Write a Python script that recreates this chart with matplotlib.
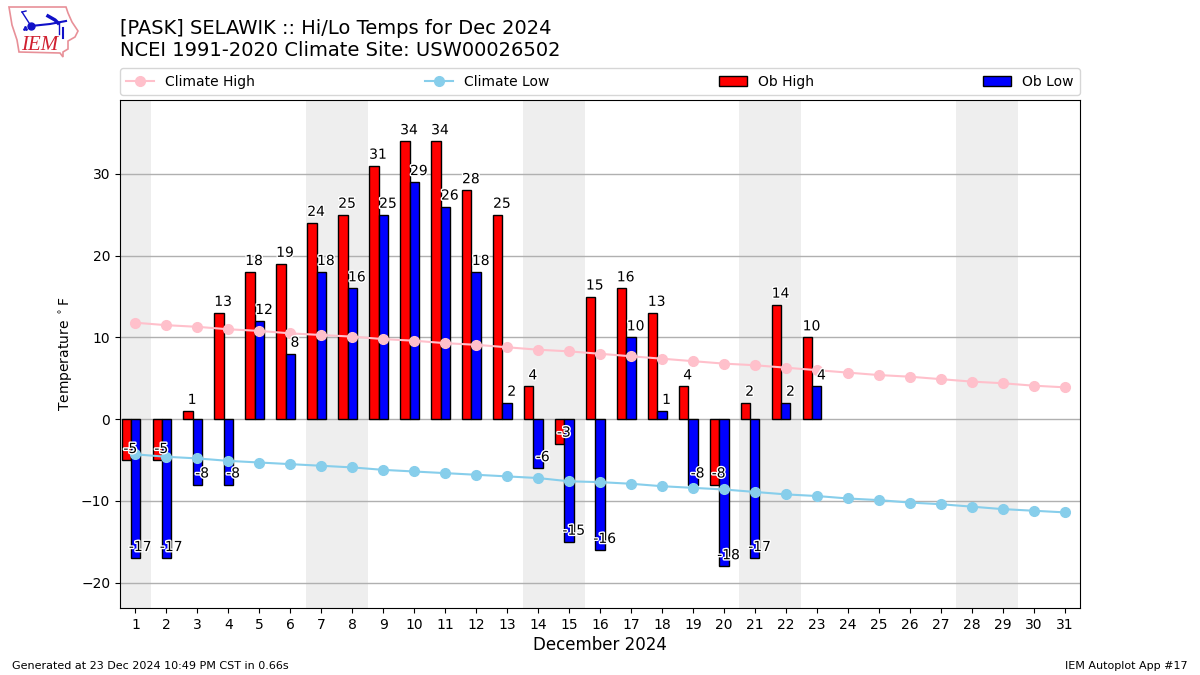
import matplotlib
matplotlib.use("Agg")
import matplotlib.pyplot as plt
import matplotlib.patheffects as pe
from matplotlib.patches import Polygon

days = list(range(1, 32))
ob_days = list(range(1, 24))
ob_high = [-5, -5, 1, 13, 18, 19, 24, 25, 31, 34, 34, 28, 25, 4, -3, 15, 16, 13, 4, -8, 2, 14, 10]
ob_low = [-17, -17, -8, -8, 12, 8, 18, 16, 25, 29, 26, 18, 2, -6, -15, -16, 10, 1, -8, -18, -17, 2, 4]
climate_high = [11.8, 11.5, 11.3, 11.0, 10.8, 10.5, 10.3, 10.1, 9.8, 9.6, 9.3, 9.1, 8.8, 8.5, 8.3, 8.0,
                7.7, 7.4, 7.1, 6.8, 6.6, 6.3, 6.0, 5.7, 5.4, 5.2, 4.9, 4.6, 4.4, 4.1, 3.9]
climate_low = [-4.3, -4.6, -4.8, -5.1, -5.3, -5.5, -5.7, -5.9, -6.2, -6.4, -6.6, -6.8, -7.0, -7.2, -7.6, -7.7,
               -7.9, -8.2, -8.4, -8.6, -8.9, -9.2, -9.4, -9.7, -9.9, -10.2, -10.4, -10.7, -11.0, -11.2, -11.4]
weekends = [(0.5, 1.5), (6.5, 8.5), (13.5, 15.5), (20.5, 22.5), (27.5, 29.5)]

W, H = 1200, 675
fig = plt.figure(figsize=(12, 6.75), dpi=100)
ax = fig.add_axes([120 / W, 1 - 608 / H, 960 / W, 508 / H])

for lo, hi in weekends:
    ax.axvspan(lo, hi, color="#eeeeee", lw=0, zorder=0)

ax.grid(True, axis="y", color="#b0b0b0", lw=1, zorder=1)
ax.set_axisbelow(True)

# red bar sits left of the day, blue bar is centred on it
width = 0.3
ax.bar([d - width for d in ob_days], ob_high, width, color="red", edgecolor="k", lw=1,
       label="Ob High", zorder=2)
ax.bar(ob_days, ob_low, width, color="blue", edgecolor="k", lw=1,
       label="Ob Low", zorder=2)
ax.plot(days, climate_high, color="pink", marker="o", ms=7, lw=1.5, label="Climate High", zorder=3)
ax.plot(days, climate_low, color="skyblue", marker="o", ms=7, lw=1.5, label="Climate Low", zorder=3)

# value labels with a white halo
halo = [pe.withStroke(linewidth=2, foreground="white")]
for d, hi, lo in zip(ob_days, ob_high, ob_low):
    ax.text(d - 0.17, hi + 0.5, str(hi), ha="center", va="bottom", fontsize=10, zorder=4, path_effects=halo)
    ax.text(d + 0.15, lo + 0.5, str(lo), ha="center", va="bottom", fontsize=10, zorder=4, path_effects=halo)

ax.set_xlim(0.5, 31.5)
ax.set_ylim(-23.1, 39.05)
ax.set_xticks(days)
ax.set_yticks([-20, -10, 0, 10, 20, 30])
ax.set_xlabel("December 2024", fontsize=12, labelpad=3)
ax.set_ylabel(r"Temperature $^\circ$F")

handles, labels = ax.get_legend_handles_labels()
order = [labels.index(n) for n in ["Climate High", "Climate Low", "Ob High", "Ob Low"]]
ax.legend([handles[i] for i in order], [labels[i] for i in order], ncol=4, mode="expand",
          loc="lower left", bbox_to_anchor=(0, 1.01, 1, 0.05), borderaxespad=0, fontsize=10,
          borderpad=0.45)

fig.text(120 / W, 1 - 29 / H, "[PASK] SELAWIK :: Hi/Lo Temps for Dec 2024", fontsize=14, va="center")
fig.text(120 / W, 1 - 51 / H, "NCEI 1991-2020 Climate Site: USW00026502", fontsize=14, va="center")
fig.text(12 / W, 1 - 666 / H, "Generated at 23 Dec 2024 10:49 PM CST in 0.66s", fontsize=8, va="center")
fig.text(1188 / W, 1 - 666 / H, "IEM Autoplot App #17", fontsize=8, va="center", ha="right")

# rough IEM logo: state outline, station model, lettering
logo = fig.add_axes([0, 1 - 60 / H, 90 / W, 60 / H])
logo.set_xlim(0, 90)
logo.set_ylim(60, 0)
logo.axis("off")
outline = [(9, 7), (66, 7), (68, 13), (72, 22), (78, 31), (75, 37), (68, 41), (68, 49), (63, 52),
           (63, 57), (60, 53), (19, 52), (17, 40), (12, 25)]
logo.add_patch(Polygon(outline, closed=True, fc="white", ec="#e89098", lw=1.2))
blue = "#1010c8"
logo.plot([31, 50, 66], [26, 24, 21], color=blue, lw=1.5)
logo.plot([31, 22], [26, 12], color=blue, lw=1)
logo.plot([22, 26], [12, 11], color=blue, lw=1)
logo.plot([31], [26], "o", color=blue, ms=5)
logo.plot([48, 55, 58], [16, 20, 23], color=blue, lw=2.5)
logo.plot([59, 59], [22, 34], color=blue, lw=1)
logo.plot([63, 63], [28, 38], color=blue, lw=1.5)
logo.plot([24, 26, 25], [29, 29, 27], ".", color=blue, ms=2)
logo.text(21, 45, "IEM", color="#d02030", family="Liberation Serif", style="italic", fontsize=15, va="center")

fig.savefig("out.png", dpi=100)
